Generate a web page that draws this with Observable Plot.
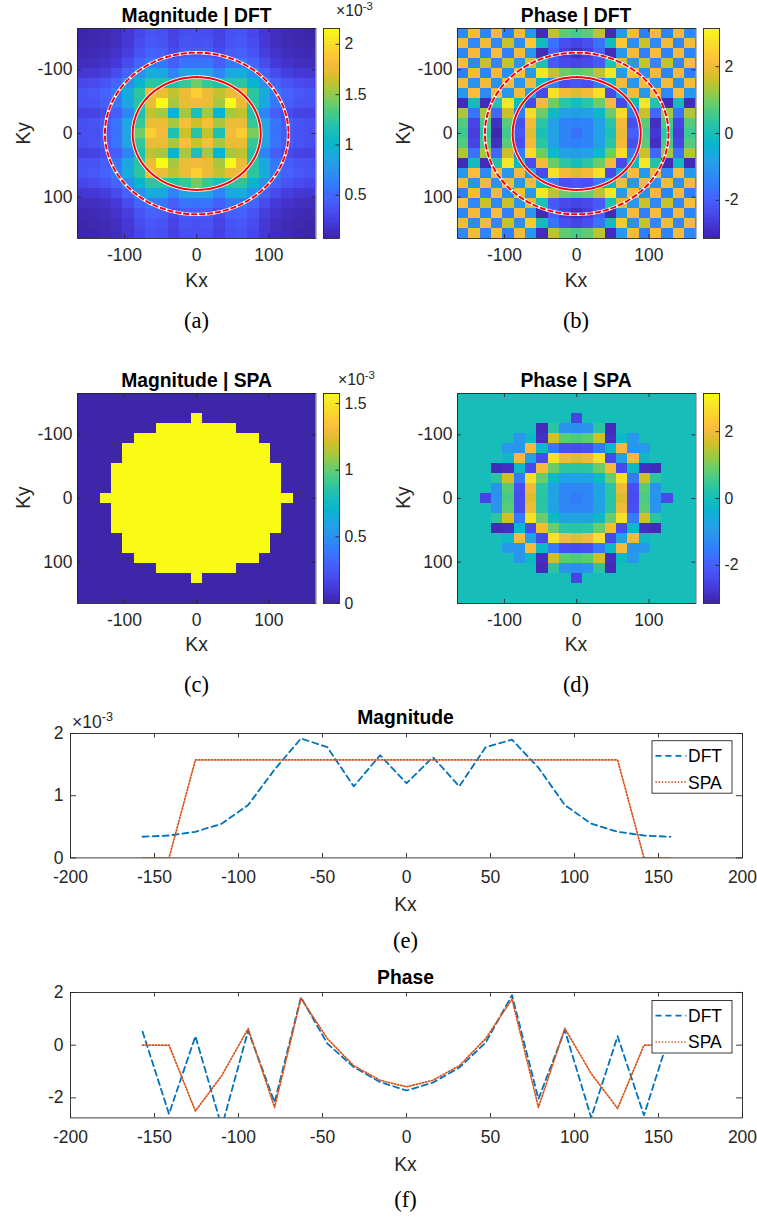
<!DOCTYPE html>
<html>
<head>
<meta charset="utf-8">
<script src="https://cdn.jsdelivr.net/npm/d3@7"></script>
<script src="https://cdn.jsdelivr.net/npm/@observablehq/plot@0.6"></script>
<style>
  html, body { margin: 0; padding: 0; background: #fff; }
  #fig { position: relative; width: 757px; height: 1217px; overflow: hidden; background: #fff; }
  .panel { position: absolute; }
  #ov { position: absolute; left: 0; top: 0; pointer-events: none; }
</style>
</head>
<body>
<div id="fig"></div>
<script>
// ---------------- DATA ----------------
// spatial-frequency grid (cell centres), shared by all panels
const kGrid = [-157.08,-141.37,-125.66,-109.96,-94.25,-78.54,-62.83,-47.12,-31.42,-15.71,0,15.71,31.42,47.12,62.83,78.54,94.25,109.96,125.66,141.37,157.08];

// (a) |DFT| in units of 1e-3, rows = Ky (top -> bottom), cols = Kx
const magDFT = [
[0.07,0.08,0.10,0.13,0.20,0.30,0.38,0.36,0.26,0.35,0.34,0.35,0.26,0.36,0.38,0.30,0.20,0.13,0.10,0.08,0.07],
[0.08,0.09,0.11,0.14,0.21,0.32,0.40,0.38,0.28,0.37,0.36,0.37,0.28,0.38,0.40,0.32,0.21,0.14,0.11,0.09,0.08],
[0.10,0.11,0.13,0.17,0.25,0.37,0.46,0.44,0.33,0.43,0.42,0.43,0.33,0.44,0.46,0.37,0.25,0.17,0.13,0.11,0.10],
[0.13,0.14,0.17,0.22,0.32,0.48,0.60,0.58,0.44,0.56,0.55,0.56,0.44,0.58,0.60,0.48,0.32,0.22,0.17,0.14,0.13],
[0.20,0.21,0.25,0.32,0.46,0.72,0.92,0.88,0.65,0.85,0.85,0.85,0.65,0.88,0.92,0.72,0.46,0.32,0.25,0.21,0.20],
[0.30,0.32,0.37,0.48,0.72,1.00,1.22,1.20,1.15,1.25,1.42,1.25,1.15,1.20,1.22,1.00,0.72,0.48,0.37,0.32,0.30],
[0.38,0.40,0.46,0.60,0.92,1.22,1.78,1.75,1.62,1.75,1.92,1.75,1.62,1.75,1.78,1.22,0.92,0.60,0.46,0.40,0.38],
[0.36,0.38,0.44,0.58,0.88,1.20,1.75,2.15,1.55,1.75,1.78,1.75,1.55,2.15,1.75,1.20,0.88,0.58,0.44,0.38,0.36],
[0.26,0.28,0.33,0.44,0.65,1.15,1.62,1.55,1.00,1.55,1.15,1.55,1.00,1.55,1.62,1.15,0.65,0.44,0.33,0.28,0.26],
[0.35,0.37,0.43,0.56,0.85,1.25,1.75,1.75,1.55,1.82,1.65,1.82,1.55,1.75,1.75,1.25,0.85,0.56,0.43,0.37,0.35],
[0.34,0.36,0.42,0.55,0.85,1.42,1.92,1.78,1.15,1.65,1.20,1.62,1.15,1.78,1.90,1.45,0.85,0.55,0.42,0.36,0.34],
[0.35,0.37,0.43,0.56,0.85,1.25,1.75,1.75,1.55,1.82,1.65,1.82,1.55,1.75,1.75,1.25,0.85,0.56,0.43,0.37,0.35],
[0.26,0.28,0.33,0.44,0.65,1.15,1.62,1.55,1.00,1.55,1.15,1.55,1.00,1.55,1.62,1.15,0.65,0.44,0.33,0.28,0.26],
[0.36,0.38,0.44,0.58,0.88,1.20,1.75,2.15,1.55,1.75,1.78,1.75,1.55,2.15,1.75,1.20,0.88,0.58,0.44,0.38,0.36],
[0.38,0.40,0.46,0.60,0.92,1.22,1.78,1.75,1.62,1.75,1.92,1.75,1.62,1.75,1.78,1.22,0.92,0.60,0.46,0.40,0.38],
[0.30,0.32,0.37,0.48,0.72,1.00,1.22,1.20,1.15,1.25,1.42,1.25,1.15,1.20,1.22,1.00,0.72,0.48,0.37,0.32,0.30],
[0.20,0.21,0.25,0.32,0.46,0.72,0.92,0.88,0.65,0.85,0.85,0.85,0.65,0.88,0.92,0.72,0.46,0.32,0.25,0.21,0.20],
[0.13,0.14,0.17,0.22,0.32,0.48,0.60,0.58,0.44,0.56,0.55,0.56,0.44,0.58,0.60,0.48,0.32,0.22,0.17,0.14,0.13],
[0.10,0.11,0.13,0.17,0.25,0.37,0.46,0.44,0.33,0.43,0.42,0.43,0.33,0.44,0.46,0.37,0.25,0.17,0.13,0.11,0.10],
[0.08,0.09,0.11,0.14,0.21,0.32,0.40,0.38,0.28,0.37,0.36,0.37,0.28,0.38,0.40,0.32,0.21,0.14,0.11,0.09,0.08],
[0.07,0.08,0.10,0.13,0.20,0.30,0.38,0.36,0.26,0.35,0.34,0.35,0.26,0.36,0.38,0.30,0.20,0.13,0.10,0.08,0.07]
];

// (b) phase of DFT, radians
const phaseDFT = [
[-1.3,2.0,-1.4,2.0,-1.5,2.0,-1.0,-3.0,1.5,0.8,0.6,0.8,1.5,-3.0,-1.0,2.0,-1.5,2.0,-1.4,2.0,-1.3],
[2.0,-1.3,2.0,-1.3,1.6,-1.2,2.3,-0.1,-1.7,-2.3,-2.5,-2.3,-1.7,-0.1,2.3,-1.2,1.6,-1.3,2.0,-1.3,2.0],
[-1.4,2.0,-1.4,2.1,-1.5,2.0,-1.0,-3.0,-2.0,-2.6,-2.9,-2.6,-2.0,-3.0,-1.0,2.0,-1.5,2.1,-1.4,2.0,-1.4],
[2.1,-1.3,1.6,-1.3,1.6,-1.0,1.8,0.1,-2.1,-2.4,-2.5,-2.4,-2.1,0.1,1.8,-1.0,1.6,-1.3,1.6,-1.3,2.1],
[-1.5,2.0,-1.4,2.0,-1.2,2.1,-0.9,2.8,1.5,0.9,0.7,0.9,1.5,2.8,-0.9,2.1,-1.2,2.0,-1.4,2.0,-1.5],
[2.0,-1.1,2.0,-1.1,2.0,-1.0,2.0,-0.2,-1.6,-2.3,-2.2,-2.3,-1.6,-0.2,2.0,-1.0,2.0,-1.1,2.0,-1.1,2.0],
[-1.0,2.1,-1.3,2.0,-1.0,2.0,-0.8,-2.4,2.7,2.0,1.8,2.0,2.7,-2.4,-0.8,2.0,-1.0,2.0,-1.3,2.1,-1.0],
[-3.0,-0.1,-3.0,0.2,2.8,-0.2,-2.4,2.0,0.9,0.3,0.0,0.3,0.9,2.0,-2.4,-0.2,2.8,0.2,-3.0,-0.1,-3.0],
[1.4,-1.7,1.3,-1.9,1.6,-1.6,2.6,0.9,-0.2,-0.85,-0.9,-0.85,-0.2,0.9,2.6,-1.6,1.6,-1.9,1.3,-1.7,1.4],
[0.7,-2.5,0.6,-2.9,0.75,-2.3,2.0,0.3,-0.85,-1.4,-1.46,-1.4,-0.85,0.3,2.0,-2.3,0.75,-2.9,0.6,-2.5,0.7],
[0.51,-2.61,0.34,-3.1,0.55,-2.17,1.82,0.06,-0.83,-1.4,-1.72,-1.42,-0.85,0.1,1.9,-2.04,0.57,-2.75,0.34,-2.66,0.5],
[0.7,-2.5,0.6,-2.9,0.75,-2.3,2.0,0.3,-0.85,-1.4,-1.46,-1.4,-0.85,0.3,2.0,-2.3,0.75,-2.9,0.6,-2.5,0.7],
[1.4,-1.7,1.3,-1.9,1.6,-1.6,2.6,0.9,-0.2,-0.85,-0.9,-0.85,-0.2,0.9,2.6,-1.6,1.6,-1.9,1.3,-1.7,1.4],
[-3.0,-0.1,-3.0,0.2,2.8,-0.2,-2.4,2.0,0.9,0.3,0.0,0.3,0.9,2.0,-2.4,-0.2,2.8,0.2,-3.0,-0.1,-3.0],
[-1.0,2.1,-1.3,2.0,-1.0,2.0,-0.8,-2.4,2.7,2.0,1.8,2.0,2.7,-2.4,-0.8,2.0,-1.0,2.0,-1.3,2.1,-1.0],
[2.0,-1.1,2.0,-1.1,2.0,-1.0,2.0,-0.2,-1.6,-2.3,-2.2,-2.3,-1.6,-0.2,2.0,-1.0,2.0,-1.1,2.0,-1.1,2.0],
[-1.5,2.0,-1.4,2.0,-1.2,2.1,-0.9,2.8,1.5,0.9,0.7,0.9,1.5,2.8,-0.9,2.1,-1.2,2.0,-1.4,2.0,-1.5],
[2.1,-1.3,1.6,-1.3,1.6,-1.0,1.8,0.1,-2.1,-2.4,-2.5,-2.4,-2.1,0.1,1.8,-1.0,1.6,-1.3,1.6,-1.3,2.1],
[-1.4,2.0,-1.4,2.1,-1.5,2.0,-1.0,-3.0,-2.0,-2.6,-2.9,-2.6,-2.0,-3.0,-1.0,2.0,-1.5,2.1,-1.4,2.0,-1.4],
[2.0,-1.3,2.0,-1.3,1.6,-1.2,2.3,-0.1,-1.7,-2.3,-2.5,-2.3,-1.7,-0.1,2.3,-1.2,1.6,-1.3,2.0,-1.3,2.0],
[-1.3,2.0,-1.4,2.0,-1.5,2.0,-1.0,-3.0,1.5,0.8,0.6,0.8,1.5,-3.0,-1.0,2.0,-1.5,2.0,-1.4,2.0,-1.3]
];

// (c) |SPA| in units of 1e-3
const magSPA = [
[0,0,0,0,0,0,0,0,0,0,0,0,0,0,0,0,0,0,0,0,0],
[0,0,0,0,0,0,0,0,0,0,0,0,0,0,0,0,0,0,0,0,0],
[0,0,0,0,0,0,0,0,0,0,1.575,0,0,0,0,0,0,0,0,0,0],
[0,0,0,0,0,0,0,1.575,1.575,1.575,1.575,1.575,1.575,1.575,0,0,0,0,0,0,0],
[0,0,0,0,0,1.575,1.575,1.575,1.575,1.575,1.575,1.575,1.575,1.575,1.575,1.575,0,0,0,0,0],
[0,0,0,0,1.575,1.575,1.575,1.575,1.575,1.575,1.575,1.575,1.575,1.575,1.575,1.575,1.575,0,0,0,0],
[0,0,0,0,1.575,1.575,1.575,1.575,1.575,1.575,1.575,1.575,1.575,1.575,1.575,1.575,1.575,0,0,0,0],
[0,0,0,1.575,1.575,1.575,1.575,1.575,1.575,1.575,1.575,1.575,1.575,1.575,1.575,1.575,1.575,1.575,0,0,0],
[0,0,0,1.575,1.575,1.575,1.575,1.575,1.575,1.575,1.575,1.575,1.575,1.575,1.575,1.575,1.575,1.575,0,0,0],
[0,0,0,1.575,1.575,1.575,1.575,1.575,1.575,1.575,1.575,1.575,1.575,1.575,1.575,1.575,1.575,1.575,0,0,0],
[0,0,1.575,1.575,1.575,1.575,1.575,1.575,1.575,1.575,1.575,1.575,1.575,1.575,1.575,1.575,1.575,1.575,1.575,0,0],
[0,0,0,1.575,1.575,1.575,1.575,1.575,1.575,1.575,1.575,1.575,1.575,1.575,1.575,1.575,1.575,1.575,0,0,0],
[0,0,0,1.575,1.575,1.575,1.575,1.575,1.575,1.575,1.575,1.575,1.575,1.575,1.575,1.575,1.575,1.575,0,0,0],
[0,0,0,1.575,1.575,1.575,1.575,1.575,1.575,1.575,1.575,1.575,1.575,1.575,1.575,1.575,1.575,1.575,0,0,0],
[0,0,0,0,1.575,1.575,1.575,1.575,1.575,1.575,1.575,1.575,1.575,1.575,1.575,1.575,1.575,0,0,0,0],
[0,0,0,0,1.575,1.575,1.575,1.575,1.575,1.575,1.575,1.575,1.575,1.575,1.575,1.575,1.575,0,0,0,0],
[0,0,0,0,0,1.575,1.575,1.575,1.575,1.575,1.575,1.575,1.575,1.575,1.575,1.575,0,0,0,0,0],
[0,0,0,0,0,0,0,1.575,1.575,1.575,1.575,1.575,1.575,1.575,0,0,0,0,0,0,0],
[0,0,0,0,0,0,0,0,0,0,1.575,0,0,0,0,0,0,0,0,0,0],
[0,0,0,0,0,0,0,0,0,0,0,0,0,0,0,0,0,0,0,0,0],
[0,0,0,0,0,0,0,0,0,0,0,0,0,0,0,0,0,0,0,0,0]
];

// (d) phase of SPA, radians
const phaseSPA = [
[0,0,0,0,0,0,0,0,0,0,0,0,0,0,0,0,0,0,0,0,0],
[0,0,0,0,0,0,0,0,0,0,0,0,0,0,0,0,0,0,0,0,0],
[0,0,0,0,0,0,0,0,0,0,-2.5,0,0,0,0,0,0,0,0,0,0],
[0,0,0,0,0,0,0,-3.0,0.3,-1.1,-1.2,-1.1,0.3,-3.0,0,0,0,0,0,0,0],
[0,0,0,0,0,-1.0,-0.2,-2.9,1.65,0.75,0.63,0.75,1.65,-2.9,-0.2,-1.0,0,0,0,0,0],
[0,0,0,0,-1.0,-1.05,2.0,-0.2,-1.6,-2.3,-2.36,-2.3,-1.6,-0.2,2.0,-1.05,-1.0,0,0,0,0],
[0,0,0,0,-0.2,2.0,-0.8,-2.4,2.7,1.95,1.78,1.95,2.7,-2.4,-0.8,2.0,-0.2,0,0,0,0],
[0,0,0,-3.0,-2.9,-0.2,-2.4,2.0,0.9,0.3,0.25,0.3,0.9,2.0,-2.4,-0.2,-2.9,-3.0,0,0,0],
[0,0,0,0.3,1.65,-1.6,2.7,0.9,-0.2,-0.8,-0.78,-0.8,-0.2,0.9,2.7,-1.6,1.65,0.3,0,0,0],
[0,0,0,-1.1,0.75,-2.3,1.95,0.3,-0.8,-1.35,-1.33,-1.35,-0.8,0.3,1.95,-2.3,0.75,-1.1,0,0,0],
[0,0,-2.5,-1.15,0.63,-2.36,1.78,0.25,-0.78,-1.33,-1.58,-1.33,-0.78,0.25,1.75,-2.36,0.64,-1.08,-2.4,0,0],
[0,0,0,-1.1,0.75,-2.3,1.95,0.3,-0.8,-1.35,-1.33,-1.35,-0.8,0.3,1.95,-2.3,0.75,-1.1,0,0,0],
[0,0,0,0.3,1.65,-1.6,2.7,0.9,-0.2,-0.8,-0.78,-0.8,-0.2,0.9,2.7,-1.6,1.65,0.3,0,0,0],
[0,0,0,-3.0,-2.9,-0.2,-2.4,2.0,0.9,0.3,0.25,0.3,0.9,2.0,-2.4,-0.2,-2.9,-3.0,0,0,0],
[0,0,0,0,-0.2,2.0,-0.8,-2.4,2.7,1.95,1.78,1.95,2.7,-2.4,-0.8,2.0,-0.2,0,0,0,0],
[0,0,0,0,-1.0,-1.05,2.0,-0.2,-1.6,-2.3,-2.36,-2.3,-1.6,-0.2,2.0,-1.05,-1.0,0,0,0,0],
[0,0,0,0,0,-1.0,-0.2,-2.9,1.65,0.75,0.63,0.75,1.65,-2.9,-0.2,-1.0,0,0,0,0,0],
[0,0,0,0,0,0,0,-3.0,0.3,-1.1,-1.2,-1.1,0.3,-3.0,0,0,0,0,0,0,0],
[0,0,0,0,0,0,0,0,0,0,-2.5,0,0,0,0,0,0,0,0,0,0],
[0,0,0,0,0,0,0,0,0,0,0,0,0,0,0,0,0,0,0,0,0],
[0,0,0,0,0,0,0,0,0,0,0,0,0,0,0,0,0,0,0,0,0]
];

// (e) centre-row magnitude profiles (1e-3) and (f) phase profiles (rad)
const lineMagDFT = [0.34,0.36,0.42,0.55,0.85,1.42,1.92,1.78,1.15,1.65,1.20,1.62,1.15,1.78,1.90,1.45,0.85,0.55,0.42,0.36,0.34];
const lineMagSPA = [0,0,1.575,1.575,1.575,1.575,1.575,1.575,1.575,1.575,1.575,1.575,1.575,1.575,1.575,1.575,1.575,1.575,1.575,0,0];
const linePhaseDFT = [0.51,-2.61,0.34,-3.1,0.55,-2.17,1.82,0.06,-0.83,-1.4,-1.72,-1.42,-0.85,0.1,1.9,-2.04,0.57,-2.75,0.34,-2.66,0.5];
const linePhaseSPA = [0,0,-2.5,-1.15,0.63,-2.36,1.78,0.25,-0.78,-1.33,-1.58,-1.33,-0.78,0.25,1.75,-2.36,0.64,-1.08,-2.4,0,0];

// overlay circle radii (solid, dashed)
const ringRadii = [88.6, 127];

// tick values & colour limits
const kTicks = [-100, 0, 100];
const kLimit = [-164.93, 164.93];
const cbTicksMagDFT = [0.5, 1, 1.5, 2];
const cbTicksMagSPA = [0, 0.5, 1, 1.5];
const cbTicksPhase = [-2, 0, 2];
const climMagDFT = [0.07, 2.157];
const climMagSPA = [0, 1.575];
const climPhase = [-3.1416, 3.1416];
const lineXTicks = [-200, -150, -100, -50, 0, 50, 100, 150, 200];
const magYTicks = [0, 1, 2];
const phaseYTicks = [-2, 0, 2];

// parula colormap (subsampled)
const parulaIdx = [0,4,8,12,16,20,24,28,32,36,40,44,48,52,56,60,63];
const parulaColors = ["#3E26A8","#4537D5","#484DF0","#4563FD","#327CFC","#2B91EF","#20A5E3","#08B5D0","#19BFB6","#37C897","#64CD6F","#9DC943","#D1BF27","#F8BA3D","#FCCF30","#F5E924","#F9FB15"];

// ---------------- DRAWING ----------------
const FONT = '"Liberation Sans", Arial, Helvetica, sans-serif';
const INK = "#262626";
const fmt = d => String(d);
const fig = document.getElementById("fig");
const SPA_DASH = "1.3,1.9";
const DFT_DASH = "6,4";

function colorScale([lo, hi]) {
  return {type: "linear", domain: parulaIdx.map(i => lo + (hi - lo) * i / 63), range: parulaColors, clamp: true, interpolate: "rgb"};
}
function style(fs) {
  return {fontFamily: FONT, fontSize: fs + "px", color: INK, background: "none", overflow: "visible", maxWidth: "none"};
}
function place(el, left, top) {
  const d = document.createElement("div");
  d.className = "panel";
  d.style.left = left + "px";
  d.style.top = top + "px";
  d.appendChild(el);
  fig.appendChild(d);
}
function ringPts(r) {
  return d3.range(0, 361, 2).map(a => ({x: r * Math.cos(a * Math.PI / 180), y: r * Math.sin(a * Math.PI / 180)}));
}

function heatmap(matrix, clim, rings, plotLeft, plotTop) {
  const h = (kGrid[1] - kGrid[0]) / 2;
  const cells = [];
  matrix.forEach((row, r) => row.forEach((v, c) => cells.push({x1: kGrid[c] - h, x2: kGrid[c] + h, y1: kGrid[r] - h, y2: kGrid[r] + h, v})));
  const mL = 70, mT = 6, pw = 238.4, ph = 210, mR = 6, mB = 40;
  const marks = [Plot.rect(cells, {x1: "x1", x2: "x2", y1: "y1", y2: "y2", fill: "v", shapeRendering: "crispEdges"})];
  if (rings) {
    marks.push(Plot.line(ringPts(ringRadii[0]), {x: "x", y: "y", stroke: "white", strokeWidth: 3.6}));
    marks.push(Plot.line(ringPts(ringRadii[0]), {x: "x", y: "y", stroke: "#ff0000", strokeWidth: 2}));
    marks.push(Plot.line(ringPts(ringRadii[1]), {x: "x", y: "y", stroke: "white", strokeWidth: 3.2}));
    marks.push(Plot.line(ringPts(ringRadii[1]), {x: "x", y: "y", stroke: "#ff0000", strokeWidth: 2, strokeDasharray: "4.5,3.5"}));
  }
  marks.push(
    Plot.frame({stroke: INK, strokeWidth: 0.9}),
    Plot.tickX(kTicks, {x: d => d, insetTop: ph - 4, stroke: INK, strokeWidth: 0.9}),
    Plot.tickX(kTicks, {x: d => d, insetBottom: ph - 4, stroke: INK, strokeWidth: 0.9}),
    Plot.tickY(kTicks, {y: d => d, insetRight: pw - 4, stroke: INK, strokeWidth: 0.9}),
    Plot.tickY(kTicks, {y: d => d, insetLeft: pw - 4, stroke: INK, strokeWidth: 0.9}),
    Plot.axisX(kTicks, {tickSize: 0, tickPadding: 10, tickFormat: fmt, label: null}),
    Plot.axisY(kTicks, {tickSize: 0, tickPadding: 5, tickFormat: fmt, label: null})
  );
  const svg = Plot.plot({
    width: mL + pw + mR, height: mT + ph + mB,
    marginLeft: mL, marginRight: mR, marginTop: mT, marginBottom: mB,
    x: {domain: kLimit},
    y: {domain: kLimit, reverse: true},
    color: colorScale(clim),
    style: style(17.5),
    marks
  });
  place(svg, plotLeft - mL, plotTop - mT);
}

function colorbar(clim, ticks, left, top) {
  const [lo, hi] = clim;
  const bins = d3.range(64).map(i => ({y1: lo + (hi - lo) * i / 64, y2: lo + (hi - lo) * (i + 1) / 64, v: lo + (hi - lo) * (i + 0.5) / 64}));
  const w = 16, ph = 210, mT = 6, mB = 6, mR = 50;
  const svg = Plot.plot({
    width: w + mR, height: ph + mT + mB,
    marginLeft: 0, marginRight: mR, marginTop: mT, marginBottom: mB,
    x: {domain: [0, 1], axis: null},
    y: {domain: [lo, hi]},
    color: colorScale(clim),
    style: style(15.75),
    marks: [
      Plot.rect(bins, {x1: 0, x2: 1, y1: "y1", y2: "y2", fill: "v", shapeRendering: "crispEdges"}),
      Plot.frame({stroke: INK, strokeWidth: 0.9}),
      Plot.tickY(ticks, {y: d => d, insetLeft: w - 3.5, stroke: INK, strokeWidth: 0.9}),
      Plot.axisY(ticks, {anchor: "right", tickSize: 0, tickPadding: 5, tickFormat: fmt, label: null})
    ]
  });
  place(svg, left, top - mT);
}

function lineChart(dft, spa, yDomain, yTicks, plotTop, ph) {
  const mL = 55, mR = 12, mT = 6, mB = 40, pw = 672, plotLeft = 69.5;
  const svg = Plot.plot({
    width: mL + pw + mR, height: mT + ph + mB,
    marginLeft: mL, marginRight: mR, marginTop: mT, marginBottom: mB,
    x: {domain: [-200, 200]},
    y: {domain: yDomain},
    style: style(17.5),
    marks: [
      Plot.line(kGrid, {x: d => d, y: (d, i) => dft[i], stroke: "#0072BD", strokeWidth: 1.8, strokeDasharray: DFT_DASH, clip: true}),
      Plot.line(kGrid, {x: d => d, y: (d, i) => spa[i], stroke: "#D95319", strokeWidth: 1.7, strokeDasharray: SPA_DASH, clip: true}),
      Plot.frame({stroke: INK, strokeWidth: 0.9}),
      Plot.tickX(lineXTicks, {x: d => d, insetTop: ph - 4.5, stroke: INK, strokeWidth: 0.9}),
      Plot.tickX(lineXTicks, {x: d => d, insetBottom: ph - 4.5, stroke: INK, strokeWidth: 0.9}),
      Plot.tickY(yTicks, {y: d => d, insetRight: pw - 6, stroke: INK, strokeWidth: 0.9}),
      Plot.tickY(yTicks, {y: d => d, insetLeft: pw - 6, stroke: INK, strokeWidth: 0.9}),
      Plot.axisX(lineXTicks, {tickSize: 0, tickPadding: 13, tickFormat: fmt, label: null}),
      Plot.axisY(yTicks, {tickSize: 0, tickPadding: 7, tickFormat: fmt, label: null})
    ]
  });
  place(svg, plotLeft - mL, plotTop - mT);
}

// heatmaps
heatmap(magDFT, climMagDFT, true, 77.3, 28.3);
heatmap(phaseDFT, climPhase, true, 457.3, 28.3);
heatmap(magSPA, climMagSPA, false, 77.3, 392.7);
heatmap(phaseSPA, climPhase, false, 457.3, 392.7);
// colorbars
colorbar(climMagDFT, cbTicksMagDFT, 322.7, 28.3);
colorbar(climPhase, cbTicksPhase, 703, 28.3);
colorbar(climMagSPA, cbTicksMagSPA, 323, 392.7);
colorbar(climPhase, cbTicksPhase, 703.2, 392.7);
// profiles
lineChart(lineMagDFT, lineMagSPA, [0, 2], magYTicks, 733.3, 124.4);
lineChart(linePhaseDFT, linePhaseSPA, [-2.76, 2], phaseYTicks, 992.3, 125.4);

// ---------------- TEXT OVERLAY ----------------
const ov = d3.select(fig).append("svg").attr("id", "ov").attr("width", 757).attr("height", 1217)
  .style("font-family", FONT);
function txt(x, y, s, o = {}) {
  const t = ov.append("text").attr("x", x).attr("y", y).text(s)
    .attr("text-anchor", o.anchor || "middle")
    .attr("dominant-baseline", o.baseline || "central")
    .attr("font-size", o.size || 19.3)
    .attr("font-weight", o.bold ? "bold" : "normal")
    .attr("fill", o.fill || INK);
  if (o.family) t.attr("font-family", o.family);
  if (o.rotate) t.attr("transform", `rotate(-90 ${x} ${y})`);
  return t;
}
const titles = [["Magnitude | DFT", 196.6, 15], ["Phase | DFT", 576, 15], ["Magnitude | SPA", 196.6, 380], ["Phase | SPA", 576, 380], ["Magnitude", 405.5, 717], ["Phase", 405.5, 977.5]];
titles.forEach(([s, x, y]) => txt(x, y, s, {bold: true, fill: "#000"}));
[[196.6, 280], [576, 280], [196.6, 644], [576, 644], [405.5, 904], [405.5, 1164.5]].forEach(([x, y]) => txt(x, y, "Kx"));
[[24, 133.3], [403.5, 133.3], [23.5, 497.5], [403.5, 497.5]].forEach(([x, y]) => txt(x, y, "Ky", {rotate: true}));
const SERIF = '"Liberation Serif", "DejaVu Serif", serif';
[["(a)", 196.6, 320], ["(b)", 576, 320], ["(c)", 196.6, 684], ["(d)", 576, 684], ["(e)", 405.5, 940], ["(f)", 405.5, 1199]]
  .forEach(([s, x, y]) => txt(x, y, s, {family: SERIF, size: 22.5, fill: "#000"}));
// exponent labels
function expo(x, y, size) {
  const t = ov.append("text").attr("x", x).attr("y", y).attr("font-size", size).attr("fill", INK);
  t.append("tspan").text("×10");
  t.append("tspan").attr("dy", -size * 0.38).attr("font-size", size * 0.72).text("-3");
}
expo(336, 16, 15.75);
expo(338, 385, 15.75);
expo(72, 728, 17.5);

// legends
function legend(top) {
  const g = ov.append("g");
  g.append("rect").attr("x", 652).attr("y", top).attr("width", 80).attr("height", 52.5)
    .attr("fill", "white").attr("stroke", INK).attr("stroke-width", 0.9);
  g.append("line").attr("x1", 655.5).attr("x2", 686.5).attr("y1", top + 15.2).attr("y2", top + 15.2)
    .attr("stroke", "#0072BD").attr("stroke-width", 1.8).attr("stroke-dasharray", DFT_DASH);
  g.append("line").attr("x1", 655.5).attr("x2", 686.5).attr("y1", top + 41.5).attr("y2", top + 41.5)
    .attr("stroke", "#D95319").attr("stroke-width", 1.7).attr("stroke-dasharray", SPA_DASH);
  txt(688, top + 15.5, "DFT", {anchor: "start", size: 17.5, fill: "#000"});
  txt(688, top + 41.8, "SPA", {anchor: "start", size: 17.5, fill: "#000"});
}
legend(740.7);
legend(1000.5);
</script>
</body>
</html>
